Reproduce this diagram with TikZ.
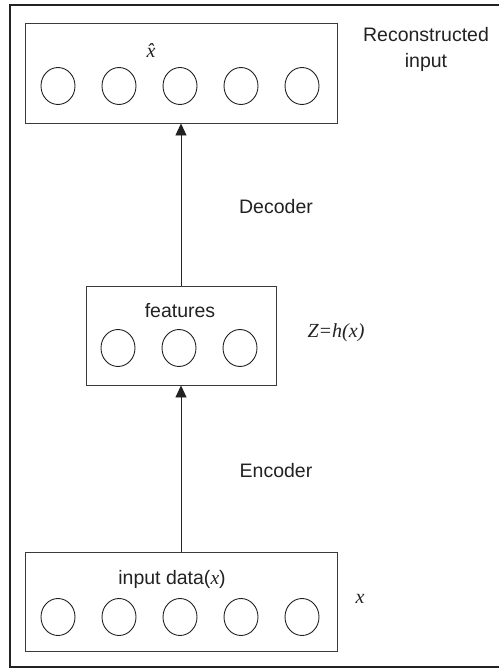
\documentclass[tikz,border=0pt]{standalone}
\usepackage{fontspec}
\setmainfont{Liberation Sans}
\newfontfamily\seriffam{Liberation Serif}
\usetikzlibrary{arrows.meta,shapes.geometric}
\definecolor{ink}{HTML}{222222}
\definecolor{boxline}{HTML}{3A3A3A}
\begin{document}
\begin{tikzpicture}[x=1pt,y=-1pt,
  layerbox/.style={draw=boxline,line width=0.9pt,rectangle,inner sep=0pt},
  unit/.style={draw=ink,line width=0.9pt,ellipse,inner sep=0pt,minimum width=34pt,minimum height=37pt},
  lbl/.style={text=ink,inner sep=0pt,anchor=base,font=\fontsize{19.5}{26}\selectfont},
  mathlbl/.style={text=ink,inner sep=0pt,anchor=base,font=\fontsize{20}{24}\selectfont\seriffam\itshape},
  flow/.style={draw=ink,line width=0.9pt,-{Triangle[width=11pt,length=12pt]}}]
\useasboundingbox (0,0) rectangle (498,669);
\fill[white] (0,0) rectangle (498,669);
\draw[line width=2.2pt,draw=ink] (10,5) rectangle (510,667);

% top box
\node[layerbox,minimum width=312pt,minimum height=100pt] (top) at (181,73) {};
\node[unit] (t1) at (58,86) {};
\node[unit] (t2) at (119,86) {};
\node[unit] (t3) at (180,86) {};
\node[unit] (t4) at (241,86) {};
\node[unit] (t5) at (302,86) {};
\node[mathlbl] (xhat) at (151,57) {\^{x}};

% middle box
\node[layerbox,minimum width=190pt,minimum height=99pt] (mid) at (181,335.5) {};
\node[unit] (m1) at (118,348) {};
\node[unit] (m2) at (179,348) {};
\node[unit] (m3) at (240,348) {};
\node[lbl] (feat) at (180,317) {features};

% bottom box
\node[layerbox,minimum width=312pt,minimum height=99pt] (bot) at (181,601.5) {};
\node[unit] (b1) at (58,617) {};
\node[unit] (b2) at (119,617) {};
\node[unit] (b3) at (180,617) {};
\node[unit] (b4) at (241,617) {};
\node[unit] (b5) at (302,617) {};
\node[lbl] (inp) at (172,584) {input data({\seriffam\itshape x})};

% arrows
\draw[flow] (bot.north) -- (mid.south);
\draw[flow] (mid.north) -- (top.south);

% side labels
\node[lbl,align=center] (recon) at (426,67) {Reconstructed\\input};
\node[lbl] (dec) at (276,213) {Decoder};
\node[lbl] (enc) at (276,477) {Encoder};
\node[mathlbl] (zh) at (336,337) {Z=h(x)};
\node[mathlbl] (xl) at (360,603) {x};
\end{tikzpicture}
\end{document}
